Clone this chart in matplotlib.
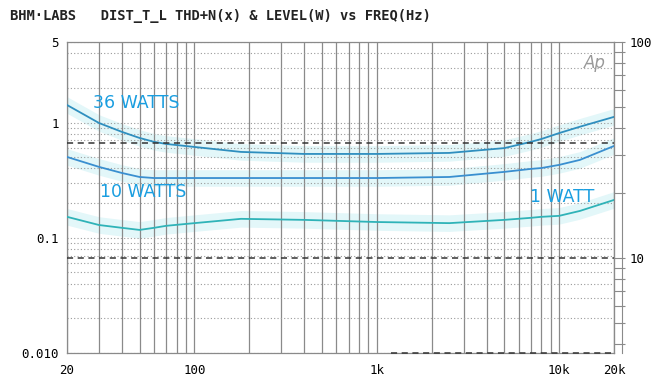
import numpy as np
import matplotlib
matplotlib.use("Agg")
import matplotlib.pyplot as plt
from matplotlib.ticker import LogLocator, NullFormatter

# frequency points (Hz)
freq = [20, 30, 40, 50, 60, 70, 100, 180, 400, 1000, 2500, 5000, 7000, 8000, 10000, 13000, 20000]

# THD+N (%) for each output power
thd_36w = [1.42, 0.99, 0.83, 0.735, 0.68, 0.652, 0.614, 0.556, 0.534, 0.534, 0.545, 0.60, 0.68, 0.72, 0.81, 0.92, 1.12]
thd_10w = [0.503, 0.412, 0.365, 0.337, 0.330, 0.330, 0.330, 0.330, 0.330, 0.330, 0.337, 0.373, 0.396, 0.403, 0.429, 0.474, 0.626]
thd_1w = [0.152, 0.129, 0.122, 0.117, 0.122, 0.127, 0.134, 0.146, 0.143, 0.137, 0.134, 0.143, 0.149, 0.152, 0.155, 0.171, 0.213]

# output level (W), right axis
level_36w = [34] * len(freq)
level_10w = [10] * len(freq)
freq_1w_lvl = [1200, 2000, 5000, 10000, 20000]
level_1w = [1.0] * len(freq_1w_lvl)

xticks = [20, 100, 1000, 10000, 20000]
xlabels = ["20", "100", "1k", "10k", "20k"]
yticks = [0.01, 0.1, 1, 5]
ylabels = ["0.010", "0.1", "1", "5"]
rticks = [10, 100]
rlabels = ["10", "100"]

mono = "DejaVu Sans Mono"
grid_c = "#8a8a8a"

fig = plt.figure(figsize=(6.51, 3.78), dpi=100)
ax = fig.add_axes([0.1029, 0.0661, 0.8403, 0.8228])

ax.set_xscale("log")
ax.set_yscale("log")
ax.set_xlim(20, 20000)
ax.set_ylim(0.01, 5)

ax.set_xticks(xticks)
ax.set_xticklabels(xlabels, fontfamily=mono, fontsize=9)
ax.xaxis.set_minor_locator(LogLocator(base=10, subs=np.arange(2, 10)))
ax.xaxis.set_minor_formatter(NullFormatter())
ax.set_yticks(yticks)
ax.set_yticklabels(ylabels, fontfamily=mono, fontsize=9)
ax.yaxis.set_minor_locator(LogLocator(base=10, subs=np.arange(2, 10)))
ax.yaxis.set_minor_formatter(NullFormatter())
ax.tick_params(which="both", length=0, pad=6)
ax.tick_params(axis="x", pad=8)

# plotter style grid: solid verticals, dotted horizontals
ax.grid(True, axis="x", which="both", color=grid_c, lw=0.9, ls="-")
ax.grid(True, axis="y", which="both", color="#9a9a9a", lw=0.8, ls=(0, (1, 2)))
for s in ax.spines.values():
    s.set_color(grid_c)
    s.set_linewidth(0.9)

# faint highlighter wash around the traces
for tr in (thd_36w, thd_10w, thd_1w):
    tr = np.array(tr)
    ax.fill_between(freq, tr / 1.18, tr * 1.18, color="#e3f7f9", lw=0, zorder=1)

ax.plot(freq, thd_36w, color="#2f8fbf", lw=1.3, zorder=3)
ax.plot(freq, thd_10w, color="#3a8fd0", lw=1.3, zorder=3)
ax.plot(freq, thd_1w, color="#2fb3b8", lw=1.3, zorder=3)

# right axis: level in watts
ax2 = ax.twinx()
ax2.set_yscale("log")
ax2.set_ylim(3.63, 100)
ax2.set_yticks(rticks)
ax2.set_yticklabels(rlabels, fontfamily=mono, fontsize=9)
ax2.yaxis.set_minor_locator(LogLocator(base=10, subs=np.arange(2, 10)))
ax2.yaxis.set_minor_formatter(NullFormatter())
ax2.tick_params(axis="y", which="both", direction="out", length=8, width=0.8,
                color=grid_c, pad=3)
for s in ax2.spines.values():
    s.set_visible(False)
ax2.spines["right"].set_visible(True)
ax2.spines["right"].set_color(grid_c)
ax2.plot([1 + 8 / 547, 1 + 8 / 547], [0, 1], transform=ax2.transAxes,
         color=grid_c, lw=0.8, clip_on=False)

ax2.plot(freq, level_36w, color="#333333", lw=1.1, ls=(0, (4, 3)))
ax2.plot(freq, level_10w, color="#333333", lw=1.1, ls=(0, (4, 3)))
# 1 W level is below the right scale, the plotter pins it to the floor
ax2.plot(freq_1w_lvl, np.clip(level_1w, 3.63, None), color="#333333", lw=1.1,
         ls=(0, (4, 3)), clip_on=False)

# trace labels
lab_c = "#1a9ee0"
ax.text(27.8, 1.48, "36 WATTS", color=lab_c, fontsize=12.5, ha="left", va="center")
ax.text(30.3, 0.25, "10 WATTS", color=lab_c, fontsize=12.5, ha="left", va="center")
ax.text(6900, 0.226, "1 WATT", color=lab_c, fontsize=12.5, ha="left", va="center")
ax.text(0.985, 0.96, "Ap", transform=ax.transAxes, color="#999999", fontsize=12,
        style="italic", ha="right", va="top")

fig.text(10 / 651, 1 - 16 / 378,
         "BHM\u00b7LABS   DIST_T_L THD+N(x) & LEVEL(W) vs FREQ(Hz)",
         fontfamily=mono, fontsize=9.9, fontweight="bold", ha="left", va="center",
         color="#222222")

fig.savefig("out.png", dpi=100)
